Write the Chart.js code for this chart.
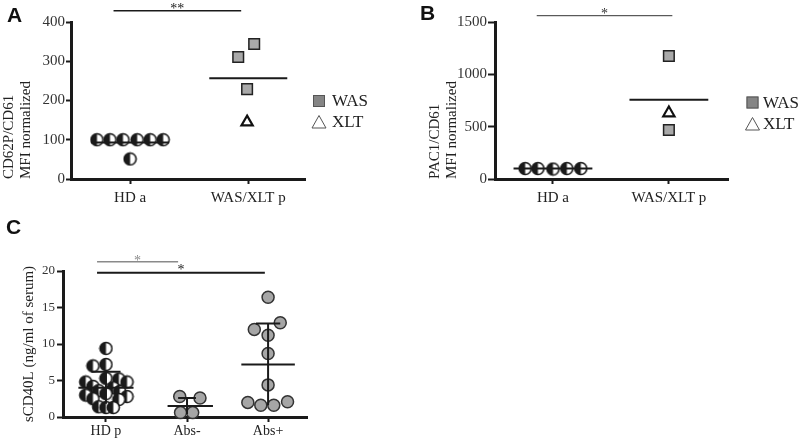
<!DOCTYPE html>
<html>
<head>
<meta charset="utf-8">
<title>Platelet activation and sCD40L</title>
<script src="https://cdn.jsdelivr.net/npm/chart.js@4.4.1/dist/chart.umd.min.js"></script>
<style>
  html, body { margin: 0; padding: 0; background: #fff; }
  #page { position: relative; width: 800px; height: 440px; overflow: hidden; background: #fff; }
  #page canvas { position: absolute; }
  .tag { position: absolute; font: bold 21px "Liberation Sans", Arial, sans-serif; line-height: 1; color: #111; }
</style>
</head>
<body>
<div id="page">
  <canvas id="chart-a" width="400" height="205" style="left:0;top:0"></canvas>
  <canvas id="chart-b" width="400" height="205" style="left:400px;top:0"></canvas>
  <canvas id="chart-c" width="400" height="230" style="left:0;top:210px"></canvas>
  <div class="tag" style="left:7px;top:4px">A</div>
  <div class="tag" style="left:420px;top:2px">B</div>
  <div class="tag" style="left:6px;top:216px">C</div>
</div>
<script>
// panel A - CD62P/CD61
const catsA = ['HD a', 'WAS/XLT p'];
const yTicksA = [0, 100, 200, 300, 400];
const hdA = [100, 100, 100, 100, 100, 100, 51];
const hdJitA = [-0.28, -0.17, -0.06, 0.06, 0.17, 0.28, 0];
const wasA = [311, 344, 229];
const wasJitA = [-0.085, 0.05, -0.01];
const xltA = [145];
const xltJitA = [-0.01];
const meanA = [93, 257];

// panel B - PAC1/CD61
const catsB = ['HD a', 'WAS/XLT p'];
const yTicksB = [0, 500, 1000, 1500];
const hdB = [100, 100, 95, 100, 100];
const hdJitB = [-0.24, -0.13, 0, 0.12, 0.24];
const wasB = [1175, 468];
const wasJitB = [0, 0];
const xltB = [630];
const xltJitB = [0];
const meanB = [100, 758];

// panel C - sCD40L
const catsC = ['HD p', 'Abs-', 'Abs+'];
const yTicksC = [0, 5, 10, 15, 20];
const hdpC = [9.4, 7.0, 7.2, 5.3, 5.2, 4.8, 4.8, 4.2, 4.0, 3.6, 3.5, 3.0, 3.2, 2.8, 2.5, 2.4, 1.4, 1.3, 1.3];
const hdpJitC = [0, -0.16, 0, 0, 0.16, 0.26, -0.25, -0.16, 0.09, -0.09, 0.17, -0.25, 0, 0.26, -0.16, 0.16, -0.09, 0, 0.09];
const absNegC = [2.8, 2.6, 0.6, 0.6];
const absNegJitC = [-0.09, 0.16, -0.08, 0.07];
const absPosC = [16.4, 12.9, 12.0, 11.2, 8.7, 4.4, 2.0, 1.6, 1.6, 2.1];
const absPosJitC = [0, 0.15, -0.17, 0, 0, 0, -0.25, -0.09, 0.07, 0.24];
const meanC = [4.0, 1.5, 7.2];
const sdC = [2.2, 1.1, 5.6];

const legendLabels = ['WAS', 'XLT'];

const SERIF = '"Liberation Serif", "Times New Roman", serif';
const INK = '#1a1a1a';

function pts(cat, vals, jit) {
  return vals.map((v, i) => ({ x: cat + jit[i], y: v }));
}

// half black / half white dot used for the healthy donors
function halfDot(r) {
  const c = document.createElement('canvas');
  const s = Math.ceil(r * 2 + 3);
  c.width = s; c.height = s;
  const g = c.getContext('2d');
  const m = s / 2;
  g.beginPath(); g.arc(m, m, r, 0, Math.PI * 2); g.fillStyle = '#fff'; g.fill();
  g.beginPath(); g.arc(m, m, r, Math.PI / 2, Math.PI * 1.5); g.closePath(); g.fillStyle = INK; g.fill();
  g.beginPath(); g.arc(m, m, r, 0, Math.PI * 2); g.lineWidth = 1.6; g.strokeStyle = INK; g.stroke();
  return c;
}
const dot = halfDot(6);

function lineSet(segs, width) {
  const data = [];
  segs.forEach(s => {
    data.push({ x: s[0], y: s[1] }, { x: s[2], y: s[3] }, { x: s[2], y: null });
  });
  return { data, showLine: true, spanGaps: false, pointRadius: 0, borderColor: INK, borderWidth: width, order: 0, clip: false };
}

const halfDots = data => ({ data, pointStyle: dot, pointRadius: 6, order: 1, clip: false });
const squares = data => ({ data, pointStyle: 'rect', pointRadius: 7.5, backgroundColor: '#a9a9a9', borderColor: '#222', borderWidth: 1.5, order: 1, clip: false });
const triangles = data => ({ data, pointStyle: 'triangle', pointRadius: 6.5, backgroundColor: '#fff', borderColor: '#111', borderWidth: 2.2, order: 1, clip: false });
const greyDots = data => ({ data, pointStyle: 'circle', pointRadius: 6, backgroundColor: '#a6a6a6', borderColor: '#333', borderWidth: 1.5, order: 1, clip: false });

function axes(o) {
  return {
    x: {
      type: 'linear', min: o.xMin, max: o.xMax,
      afterBuildTicks: s => { s.ticks = o.cats.map((c, i) => ({ value: i })); },
      afterFit: s => { s.height = o.xHeight; },
      ticks: { callback: v => o.cats[v], color: '#222', font: { family: SERIF, size: o.catSize }, padding: o.catPad, maxRotation: 0, autoSkip: false },
      grid: { drawOnChartArea: false, drawTicks: true, tickLength: 5, tickWidth: 2, color: INK },
      border: { display: true, width: 3, color: INK }
    },
    y: {
      type: 'linear', min: o.yTicks[0], max: o.yTicks[o.yTicks.length - 1],
      afterBuildTicks: s => { s.ticks = o.yTicks.map(v => ({ value: v })); },
      afterFit: s => { s.width = o.yWidth; },
      ticks: { callback: v => String(v), color: '#333', font: { family: SERIF, size: o.tickSize }, padding: o.tickPad },
      grid: { drawOnChartArea: false, drawTicks: true, tickLength: o.tickLen, tickWidth: 2, color: INK },
      border: { display: true, width: 3, color: INK },
      title: { display: true, text: o.title, align: o.titleAlign, color: '#222', font: { family: SERIF, size: 15, lineHeight: 1.17 }, padding: { top: o.titlePad, bottom: 0 } }
    }
  };
}

// significance bars and the WAS/XLT key
const extras = {
  id: 'extras',
  afterDatasetsDraw(chart, args, opts) {
    const { ctx, chartArea: a } = chart;
    const x = chart.scales.x;
    ctx.save();
    (opts.bars || []).forEach(b => {
      const x1 = x.getPixelForValue(b.from), x2 = x.getPixelForValue(b.to);
      const y = a.top + b.dy;
      ctx.strokeStyle = b.color; ctx.lineWidth = b.width;
      ctx.beginPath(); ctx.moveTo(x1, y); ctx.lineTo(x2, y); ctx.stroke();
      ctx.font = '14px ' + SERIF;
      ctx.fillStyle = b.color; ctx.textAlign = 'center'; ctx.textBaseline = 'alphabetic';
      const m = ctx.measureText(b.label);
      ctx.fillText(b.label, (x1 + x2) / 2, y - b.gap - m.actualBoundingBoxDescent);
    });
    const lg = opts.legend;
    if (lg) {
      const lx = a.right + lg.dx, ly = a.top + lg.dy, ty = ly + lg.step;
      ctx.fillStyle = '#858585'; ctx.fillRect(lx - 6, ly - 6, 12, 12);
      ctx.strokeStyle = '#555'; ctx.lineWidth = 1; ctx.strokeRect(lx - 5.5, ly - 5.5, 11, 11);
      ctx.beginPath(); ctx.moveTo(lx, ty - 6.5); ctx.lineTo(lx + 7, ty + 6); ctx.lineTo(lx - 7, ty + 6); ctx.closePath();
      ctx.fillStyle = '#fff'; ctx.fill(); ctx.stroke();
      ctx.font = '17px ' + SERIF; ctx.fillStyle = '#222';
      ctx.textAlign = 'left'; ctx.textBaseline = 'middle';
      ctx.fillText(legendLabels[0], lx + lg.textDx, ly + 1);
      ctx.fillText(legendLabels[1], lx + lg.textDx, ty + 1);
    }
    ctx.restore();
  }
};

function baseOptions(pad, scales, extraOpts) {
  return {
    responsive: false, animation: false, events: [],
    layout: { padding: pad },
    scales,
    plugins: { legend: { display: false }, tooltip: { enabled: false }, extras: extraOpts }
  };
}

// ---- A
new Chart(document.getElementById('chart-a'), {
  type: 'scatter',
  data: {
    datasets: [
      lineSet(meanA.map((m, i) => [i - 0.33, m, i + 0.33, m]), 2),
      halfDots(pts(0, hdA, hdJitA)),
      squares(pts(1, wasA, wasJitA)),
      triangles(pts(1, xltA, xltJitA))
    ]
  },
  options: baseOptions({ left: 0, top: 22, right: 95, bottom: 0 },
    axes({ cats: catsA, xMin: -0.5, xMax: 1.48, xHeight: 26, catSize: 15, catPad: 5,
           yTicks: yTicksA, yWidth: 71, tickSize: 15, tickPad: 1, tickLen: 5,
           title: ['CD62P/CD61', 'MFI normalized'], titleAlign: 'start', titlePad: 0 }),
    { bars: [{ from: -0.14, to: 0.94, dy: -11.3, color: '#1a1a1a', width: 1.5, label: '**', gap: 2 }],
      legend: { dx: 14, dy: 79, step: 21, textDx: 13 } })
  ,
  plugins: [extras]
});

// ---- B
new Chart(document.getElementById('chart-b'), {
  type: 'scatter',
  data: {
    datasets: [
      lineSet(meanB.map((m, i) => [i - 0.34, m, i + 0.34, m]), 2),
      halfDots(pts(0, hdB, hdJitB)),
      squares(pts(1, wasB, wasJitB)),
      triangles(pts(1, xltB, xltJitB))
    ]
  },
  options: baseOptions({ left: 0, top: 22, right: 72, bottom: 0 },
    axes({ cats: catsB, xMin: -0.5, xMax: 1.51, xHeight: 26, catSize: 15, catPad: 5,
           yTicks: yTicksB, yWidth: 95, tickSize: 15, tickPad: 1, tickLen: 7,
           title: ['PAC1/CD61', 'MFI normalized'], titleAlign: 'start', titlePad: 26 }),
    { bars: [{ from: -0.14, to: 1.03, dy: -6.3, color: '#333', width: 1, label: '*', gap: 1.5 }],
      legend: { dx: 24.5, dy: 80.5, step: 21.5, textDx: 10.5 } }),
  plugins: [extras]
});

// ---- C
const meanHalfC = [0.34, 0.28, 0.33];
const meanShiftC = [0, 0.04, 0];
const capHalfC = [0.18, 0.11, 0.15];
const segsC = [];
meanC.forEach((m, i) => {
  const c = i + meanShiftC[i];
  segsC.push([c - meanHalfC[i], m, c + meanHalfC[i], m]);
  segsC.push([i, m - sdC[i], i, m + sdC[i]]);
  segsC.push([i - capHalfC[i], m + sdC[i], i + capHalfC[i], m + sdC[i]]);
});

new Chart(document.getElementById('chart-c'), {
  type: 'scatter',
  data: {
    datasets: [
      lineSet(segsC, 2),
      halfDots(pts(0, hdpC, hdpJitC)),
      greyDots(pts(1, absNegC, absNegJitC)),
      greyDots(pts(2, absPosC, absPosJitC))
    ]
  },
  options: baseOptions({ left: 0, top: 61, right: 93, bottom: 0 },
    axes({ cats: catsC, xMin: -0.53, xMax: 2.48, xHeight: 23, catSize: 14, catPad: 1,
           yTicks: yTicksC, yWidth: 63, tickSize: 13, tickPad: 2, tickLen: 6,
           title: 'sCD40L (ng/ml of serum)', titleAlign: 'center', titlePad: 20 }),
    { bars: [
        { from: -0.11, to: 0.89, dy: -9.3, color: '#8a8a8a', width: 1.5, label: '*', gap: 0.5 },
        { from: -0.11, to: 1.96, dy: 1.7, color: '#1a1a1a', width: 2, label: '*', gap: 2.5 }
      ] }),
  plugins: [extras]
});
</script>
</body>
</html>
